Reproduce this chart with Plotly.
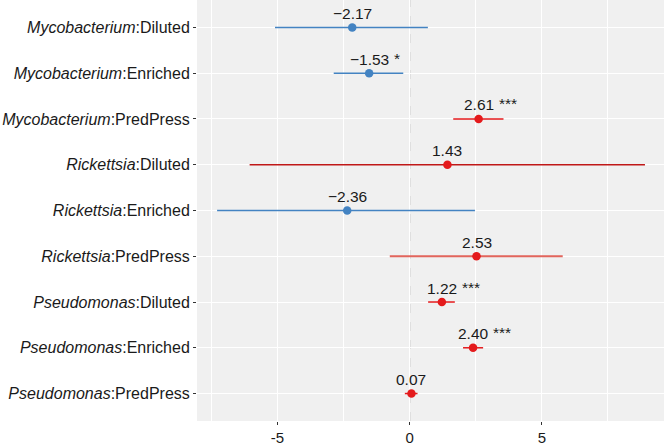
import plotly.graph_objects as go

genus = ["Mycobacterium"] * 3 + ["Rickettsia"] * 3 + ["Pseudomonas"] * 3
treatment = ["Diluted", "Enriched", "PredPress"] * 3
estimate = [-2.17, -1.53, 2.61, 1.43, -2.36, 2.53, 1.22, 2.40, 0.07]
ci_low = [-5.09, -2.87, 1.65, -6.05, -7.28, -0.75, 0.70, 2.02, -0.18]
ci_high = [0.69, -0.24, 3.55, 8.90, 2.47, 5.79, 1.71, 2.78, 0.30]
stars = ["", "*", "***", "", "", "", "***", "***", ""]

labels = [f"<i>{g}</i>:{t}" for g, t in zip(genus, treatment)]
keys = [f"{g}:{t}" for g, t in zip(genus, treatment)]

BLUE = "#4383c2"
RED = "#e41a1c"
line_colors = {3: "#c01818", 5: "#e2655c"}
line_widths = {3: 1.3, 5: 2.2}
FONT = "Liberation Sans, Arial, Helvetica"
LBL = 15.5

fig = go.Figure()
for i in range(len(keys)):
    col = BLUE if estimate[i] < 0 else RED
    lc = line_colors.get(i, col)
    lw = line_widths.get(i, 1.5)
    fig.add_trace(go.Scatter(
        x=[ci_low[i], ci_high[i]], y=[keys[i], keys[i]], mode="lines",
        line=dict(color=lc, width=lw), showlegend=False, hoverinfo="skip"))
    fig.add_trace(go.Scatter(
        x=[estimate[i]], y=[keys[i]], mode="markers",
        marker=dict(color=col, size=8.5), showlegend=False))

def fmt(v):
    s = f"{abs(v):.2f}"
    return ("\u2212" + s) if v < 0 else s

def width_est(s, fs=LBL):
    w = 0
    for ch in s:
        if ch == ".":
            w += 0.278
        elif ch == "\u2212":
            w += 0.584
        else:
            w += 0.556
    return w * fs

for i in range(len(keys)):
    txt = fmt(estimate[i])
    fig.add_annotation(x=estimate[i], y=keys[i], text=txt, showarrow=False,
                       xanchor="center", yanchor="middle", yshift=14,
                       font=dict(size=LBL, color="#1a1a1a", family=FONT))
    if stars[i]:
        fig.add_annotation(x=estimate[i], y=keys[i], text=stars[i], showarrow=False,
                           xanchor="left", yanchor="middle", yshift=15,
                           xshift=width_est(txt) / 2 + 3,
                           font=dict(size=LBL, color="#1a1a1a", family=FONT))

fig.add_shape(type="line", x0=0, x1=0, xref="x", y0=0, y1=1, yref="paper",
              line=dict(color="#a0a0a0", width=1.2, dash="dash"), layer="below")

fig.update_layout(
    width=666, height=446,
    margin=dict(l=197, r=2, t=0, b=19),
    paper_bgcolor="white", plot_bgcolor="#f0f0f0",
    font=dict(family=FONT, size=14, color="#333333"),
    xaxis=dict(range=[-8.04, 9.62], tickvals=[-5, 0, 5], ticktext=["-5", "0", "5"],
               showgrid=True, gridcolor="white", gridwidth=1.2, zeroline=False,
               ticks="outside", ticklen=3, tickcolor="#333333",
               tickfont=dict(size=15, color="#1a1a1a"),
               minor=dict(tickvals=[-7.5, -2.5, 2.5, 7.5], showgrid=True,
                          gridcolor="white", gridwidth=0.6, ticks="")),
    yaxis=dict(type="category", categoryarray=keys, tickvals=keys, ticktext=labels,
               range=[8.6, -0.6], showgrid=True, gridcolor="white", gridwidth=1.2,
               zeroline=False, ticks="outside", ticklen=3, tickcolor="#333333",
               tickfont=dict(size=16, color="#1a1a1a")),
)

fig.write_html("out.html", config={"displayModeBar": False},
               post_script="document.body.style.margin='0';document.body.style.overflow='hidden';")
